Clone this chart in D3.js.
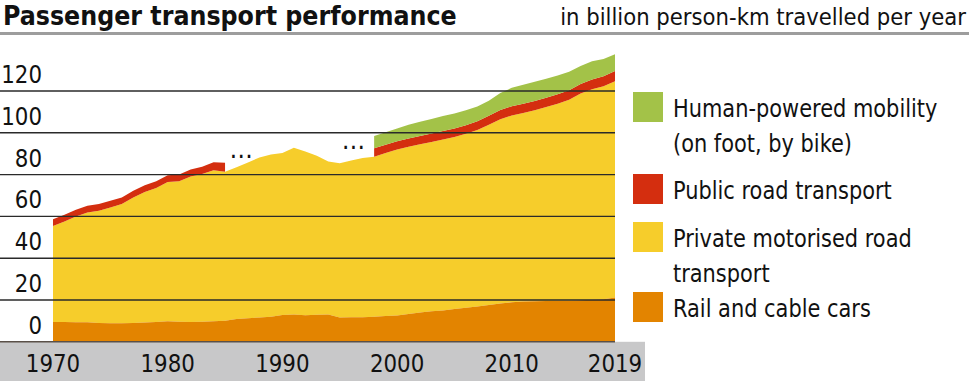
<!DOCTYPE html>
<html>
<head>
<meta charset="utf-8">
<script src="https://cdn.jsdelivr.net/npm/d3@7"></script>
<style>
  html, body { margin: 0; padding: 0; background: #fff; }
  svg { display: block; }
  text { font-family: "DejaVu Sans Condensed", "Liberation Sans Narrow", "Noto Sans", sans-serif; fill: #111; }
</style>
</head>
<body>
<svg id="chart" width="969" height="382"></svg>
<script>
// ---- data (billion person-km) ----
const years = [1970,1971,1972,1973,1974,1975,1976,1977,1978,1979,
               1980,1981,1982,1983,1984,1985,1986,1987,1988,1989,
               1990,1991,1992,1993,1994,1995,1996,1997,1998,1999,
               2000,2001,2002,2003,2004,2005,2006,2007,2008,2009,
               2010,2011,2012,2013,2014,2015,2016,2017,2018,2019];
const rail = [9.5,9.5,9.4,9.3,9.0,8.9,8.9,9.0,9.2,9.5,
              9.8,9.6,9.5,9.6,9.8,10.1,10.9,11.3,11.6,12.0,
              12.8,13.1,12.7,12.9,13.1,11.6,11.7,11.8,12.0,12.3,
              12.6,13.3,14.0,14.6,15.0,15.7,16.3,16.9,17.6,18.3,
              18.9,19.3,19.4,19.5,19.6,19.7,19.9,20.1,20.3,21.2];
const privateRoad = [45.9,48.1,50.6,52.6,53.7,55.4,57.0,60.1,62.5,64.1,
                     66.6,67.2,69.6,70.7,72.3,71.3,72.6,74.5,76.6,77.6,
                     77.5,79.8,78.3,76.1,73.2,73.8,75.1,76.2,76.6,78.0,
                     79.4,80.0,80.5,81.0,81.8,82.3,83.2,84.4,86.2,88.2,
                     89.4,90.2,91.4,92.8,94.3,96.1,98.9,100.7,102.0,103.5];
const publicRoad = [3.2,3.2,3.2,3.2,3.2,3.2,3.2,3.2,3.2,3.2,
                    3.3,3.3,3.4,3.5,3.8,4.3,null,null,null,null,
                    null,null,null,null,null,null,null,null,4.0,4.0,
                    4.0,4.0,4.0,4.1,4.1,4.1,4.1,4.2,4.3,4.4,
                    4.4,4.4,4.4,4.5,4.5,4.6,4.6,4.7,4.8,4.9];
const humanPowered = [null,null,null,null,null,null,null,null,null,null,
                      null,null,null,null,null,null,null,null,null,null,
                      null,null,null,null,null,null,null,null,5.9,6.0,
                      6.0,6.5,6.8,6.9,7.1,7.1,7.2,7.1,7.2,8.1,
                      8.8,9.1,9.2,9.1,9.0,8.8,8.6,8.7,8.2,8.0];
const yTicks = [0,20,40,60,80,100,120];
const xTicks = [1970,1980,1990,2000,2010,2019];
const gapMarks = [{year:1986.4, value:88.3}, {year:1996.2, value:92.6}];
const legendItems = [
  {lines:["Human-powered mobility","(on foot, by bike)"], color:"#a3c248"},
  {lines:["Public road transport"], color:"#d42e0f"},
  {lines:["Private motorised road","transport"], color:"#f6cd2b"},
  {lines:["Rail and cable cars"], color:"#e38400"}
];
const title = "Passenger transport performance";
const subtitle = "in billion person-km travelled per year";

// ---- layout ----
const svg = d3.select("#chart");
const x = d3.scaleLinear().domain([1970, 2019]).range([53, 615]);
const y = d3.scaleLinear().domain([0, 120]).range([341.8, 91]);

// cumulative stacks
const rows = years.map((yr, i) => {
  const r = rail[i], p = privateRoad[i];
  const pu = publicRoad[i], h = humanPowered[i];
  const b1 = r + p;
  const b2 = b1 + (pu == null ? 0 : pu);
  return {yr, r, b1, pu, b2, h, b3: b2 + (h == null ? 0 : h)};
});

// narrow a text horizontally to imitate the condensed face
function squeeze(sel, k) {
  sel.each(function () {
    const len = this.getComputedTextLength();
    if (len > 0) d3.select(this).attr("textLength", len * k).attr("lengthAdjust", "spacingAndGlyphs");
  });
  return sel;
}
// shrink font so natural width equals target
function fitSize(sel, fs, w) {
  sel.attr("font-size", fs);
  const len = sel.node().getComputedTextLength();
  if (len > w) sel.attr("font-size", fs * w / len);
  return sel;
}

// title
const t1 = svg.append("text").attr("x", 3).attr("y", 25).attr("font-weight", "bold").text(title);
fitSize(t1, 27, 454);
const st = svg.append("text").attr("x", 966).attr("y", 25).attr("text-anchor", "end").text(subtitle);
fitSize(st, 26, 406);
svg.append("rect").attr("x", 0).attr("y", 32).attr("width", 969).attr("height", 3).attr("fill", "#9d9d9d");

// bottom band
svg.append("rect").attr("x", 0).attr("y", y(0)).attr("width", 645).attr("height", 382 - y(0) - 1).attr("fill", "#c8c8c9");

// areas
const areaRail = d3.area().x(d => x(d.yr)).y0(y(0)).y1(d => y(d.r));
const areaPriv = d3.area().x(d => x(d.yr)).y0(d => y(d.r)).y1(d => y(d.b1));
const areaPub = d3.area().defined(d => d.pu != null).x(d => x(d.yr)).y0(d => y(d.b1)).y1(d => y(d.b2));
const areaHum = d3.area().defined(d => d.h != null).x(d => x(d.yr)).y0(d => y(d.b2)).y1(d => y(d.b3));

svg.append("path").datum(rows).attr("d", areaPriv).attr("fill", legendItems[2].color);
svg.append("path").datum(rows).attr("d", areaRail).attr("fill", legendItems[3].color);
svg.append("path").datum(rows).attr("d", areaPub).attr("fill", legendItems[1].color);
svg.append("path").datum(rows).attr("d", areaHum).attr("fill", legendItems[0].color);

// gridlines
svg.append("g").selectAll("line").data(yTicks.filter(v => v > 0)).join("line")
  .attr("x1", 0).attr("x2", x(2019))
  .attr("y1", d => y(d)).attr("y2", d => y(d))
  .attr("stroke", "#2a2a2a").attr("stroke-width", 1.4);
svg.append("line").attr("x1", 0).attr("x2", x(2019)).attr("y1", y(0)).attr("y2", y(0))
  .attr("stroke", "#5a5048").attr("stroke-width", 1.4);

// y labels
squeeze(svg.append("g").selectAll("text").data(yTicks).join("text")
  .attr("x", 42).attr("y", d => y(d) - 8)
  .attr("text-anchor", "end").attr("font-size", 25)
  .text(d => d), 0.95);

// x labels
squeeze(svg.append("g").selectAll("text").data(xTicks).join("text")
  .attr("x", d => x(d)).attr("y", 372)
  .attr("text-anchor", "middle").attr("font-size", 25)
  .text(d => d), 0.95);

// gap marks
svg.append("g").selectAll("text").data(gapMarks).join("text")
  .attr("x", d => x(d.year)).attr("y", d => y(d.value) + 1)
  .attr("text-anchor", "middle").attr("font-size", 26)
  .text("\u2026");

// legend
const legY = [92, 174, 222, 292];
const lg = svg.append("g");
legendItems.forEach((it, i) => {
  lg.append("rect").attr("x", 633).attr("y", legY[i]).attr("width", 30).attr("height", 30).attr("fill", it.color);
  it.lines.forEach((ln, j) => {
    squeeze(lg.append("text").attr("x", 673).attr("y", legY[i] + 25 + j * 35)
      .attr("font-size", 25).text(ln), 0.93);
  });
});
</script>
</body>
</html>
